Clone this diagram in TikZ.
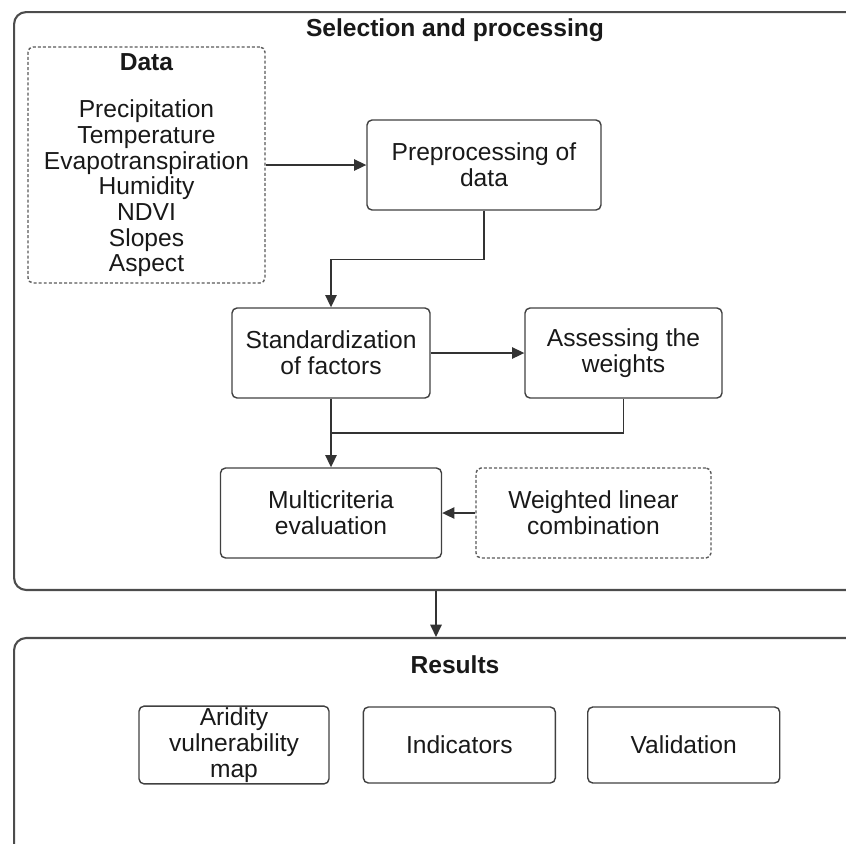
\documentclass[tikz,border=0pt]{standalone}
\usepackage{fontspec}
\setmainfont{Liberation Sans}
\usetikzlibrary{positioning}
\usetikzlibrary{arrows.meta}

\begin{document}
\begin{tikzpicture}[x=0.02cm, y=-0.02cm,
                every node/.style={font=\fontsize{14}{14.6}\selectfont, text=black!90, align=center},
                titlenode/.style={font=\fontsize{14}{14.6}\selectfont\bfseries},
                outernode/.style={rectangle, rounded corners=0.24cm, draw=black!70, line width=1.2pt, minimum width=17.32cm},
                roundednode/.style={rectangle, rounded corners=0.1cm, draw=black!75, line width=0.8pt, minimum height=1.8cm, inner sep=1pt},
                dashednode/.style={roundednode, draw=black!65, dash pattern=on 1.7pt off 1.2pt},
                resultnode/.style={roundednode, minimum height=1.52cm, minimum width=3.84cm},
                link/.style={draw=black!80, line width=0.8pt, -{Triangle[length=7pt, width=6.5pt]}},
                ]

                \clip (0,0) rectangle (846,843);

                % outer frames
                \node[outernode, minimum height=11.56cm] (sel) at (447,301) {};
                \node[titlenode] (seltitle) at (455,30) {Selection and processing};
                \node[outernode, minimum height=5.24cm] (res) at (447,769) {};
                \node[titlenode] (restitle) at (455,665) {Results};

                % selection and processing
                \node[dashednode, minimum width=4.74cm, minimum height=4.72cm] (data) at (146.5,165)
                    {\textbf{Data}\\[0.44cm] Precipitation\\ Temperature\\ Evapotranspiration\\ Humidity\\ NDVI\\ Slopes\\ Aspect};
                \node[roundednode, minimum width=4.68cm] (pre) at (484,165) {Preprocessing of\\ data};
                \node[roundednode, minimum width=3.96cm] (std) at (331,353) {Standardization\\ of factors};
                \node[roundednode, minimum width=3.94cm] (weights) at (623.5,353) {Assessing the\\ weights};
                \node[roundednode, minimum width=4.42cm] (mce) at (331,513) {Multicriteria\\ evaluation};
                \node[dashednode, minimum width=4.7cm] (wlc) at (593.5,513) {Weighted linear\\ combination};
                \coordinate (join) at (331,433);

                % results
                \node[resultnode, minimum width=3.8cm] (map) at (234,745) {Aridity\\ vulnerability\\ map};
                \node[resultnode, right=0.66cm of map] (ind) {Indicators};
                \node[resultnode, right=0.62cm of ind] (val) {Validation};

                \draw[link] (data.east) -- (pre.west);
                \draw[link] (pre.south) -- ++(0,49) -| (std.north);
                \draw[link] (std.east) -- (weights.west);
                \draw[link] (std.south) -- (mce.north);
                \draw[link, -] (weights.south) |- (join);
                \draw[link] (wlc.west) -- (mce.east);
                \draw[link] ([xshift=-0.22cm]sel.south) -- ([xshift=-0.22cm]res.north);
            \end{tikzpicture}
\end{document}
